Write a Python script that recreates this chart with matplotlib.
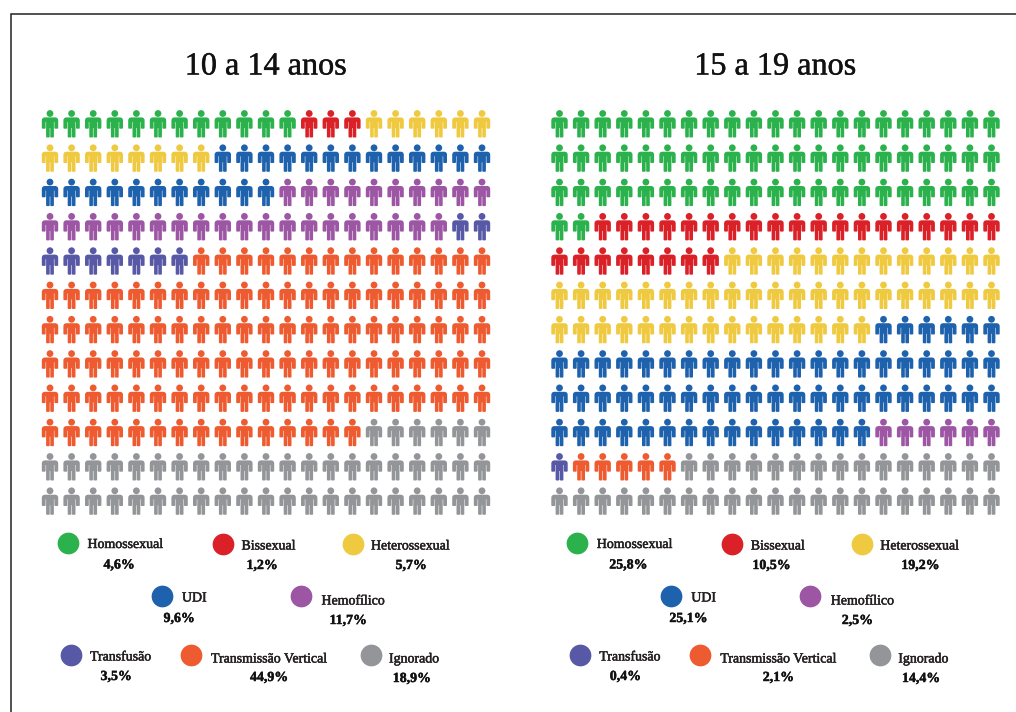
import numpy as np
import matplotlib
matplotlib.use("Agg")
import matplotlib.pyplot as plt
import matplotlib.patheffects as pe
from matplotlib.path import Path

plt.rcParams['font.family'] = ['Liberation Serif', 'DejaVu Serif']

categories = ["Homossexual", "Bissexual", "Heterossexual", "UDI", "Hemofílico",
              "Transfusão", "Transmissão Vertical", "Ignorado"]
colors = ["#2BB24C", "#DA2128", "#EFC940", "#1E61AC", "#9C56A4",
          "#5859A6", "#EE5B30", "#939598"]

title_young = "10 a 14 anos"
title_old = "15 a 19 anos"

# number of figures per category, out of 252
counts_young = [12, 3, 14, 24, 29, 9, 113, 48]
counts_old = [65, 27, 49, 63, 6, 1, 5, 36]

percent_young = ["4,6%", "1,2%", "5,7%", "9,6%", "11,7%", "3,5%", "44,9%", "18,9%"]
percent_old = ["25,8%", "10,5%", "19,2%", "25,1%", "2,5%", "0,4%", "2,1%", "14,4%"]

N_COLS = 21
N_ROWS = 12

# legend layout for the left panel: dot, label start, value centre
dot_x = [67.7, 223, 352.7, 161.7, 301, 71, 190.7, 371]
dot_y = [543, 543.5, 543.5, 596, 596, 654.5, 654.5, 654.5]
label_x = [87.5, 241.5, 371, 182, 321.5, 90, 211, 389]
label_y = [544.5, 546, 546, 598, 601, 657, 659, 659]
value_x = [119, 262, 411, 179, 348, 116, 269, 411.7]
value_y = [565, 565.5, 565.5, 618.5, 620.5, 676.5, 677.5, 678.5]


def person_marker():
    # little person: head plus body with arms and legs, drawn in a 27 px tall box
    half = [(0.3, 6.9), (5.6, 6.9), (7.0, 7.4), (7.9, 8.4), (8.2, 9.8), (8.2, 17.6), (7.6, 18.2),
            (5.0, 18.2), (4.4, 17.6), (4.4, 11.5), (3.9, 11.5), (3.9, 26.4), (3.3, 27),
            (0.9, 27), (0.28, 26.4), (0.28, 17.5)]
    right = np.array(half, dtype=float)
    left = right[::-1].copy()
    left[:, 0] *= -1
    body = np.vstack([right, left, right[:1]])
    codes = [Path.MOVETO] + [Path.LINETO] * (len(body) - 2) + [Path.CLOSEPOLY]
    body_path = Path(body, codes)

    circle = Path.unit_circle()
    head = Path(circle.vertices * 3.4 + [0, 3.0], circle.codes)

    both = Path.make_compound_path(head, body_path)
    verts = both.vertices.copy()
    verts[:, 1] = (13.5 - verts[:, 1]) / 13.5
    verts[:, 0] = verts[:, 0] / 13.5
    return Path(verts, both.codes)


person = person_marker()

fig = plt.figure(figsize=(10.16, 7.12), dpi=100)
ax = fig.add_axes([0, 0, 1, 1])
ax.set_xlim(0, 1016)
ax.set_ylim(712, 0)
ax.axis("off")

# page frame, open at right and bottom
ax.plot([10.5, 10.5, 1016], [712, 13.5, 13.5], color="#222222", lw=1.1, solid_joinstyle="miter")

# slight weight for the serif text
heavier = [pe.withStroke(linewidth=0.35, foreground="#231F20")]


def draw_panel(title, counts, percents, x0, offset):
    ax.text(x0 + 216, 67, title, fontsize=23.2, ha="center", va="center", color="#111111",
            path_effects=heavier)

    # figures are filled row by row, category after category
    fill = np.repeat(np.arange(len(counts)), counts)
    rows, cols = np.divmod(np.arange(len(fill)), N_COLS)
    xs = x0 + cols * 21.6
    ys = 124 + rows * 34.3
    ax.scatter(xs, ys, marker=person, s=400, linewidths=0,
               c=[colors[i] for i in fill])

    for i, name in enumerate(categories):
        ax.scatter(dot_x[i] + offset, dot_y[i], s=245, color=colors[i], linewidths=0)
        ax.text(label_x[i] + offset, label_y[i], name, fontsize=10, ha="left", va="center",
                color="#231F20", path_effects=heavier)
        ax.text(value_x[i] + offset, value_y[i], percents[i], fontsize=10, ha="center", va="center",
                color="#111111", fontweight="bold", path_effects=heavier)


draw_panel(title_young, counts_young, percent_young, 50, 0)
draw_panel(title_old, counts_old, percent_old, 559.5, 509.3)

fig.savefig("out.png", dpi=100)
